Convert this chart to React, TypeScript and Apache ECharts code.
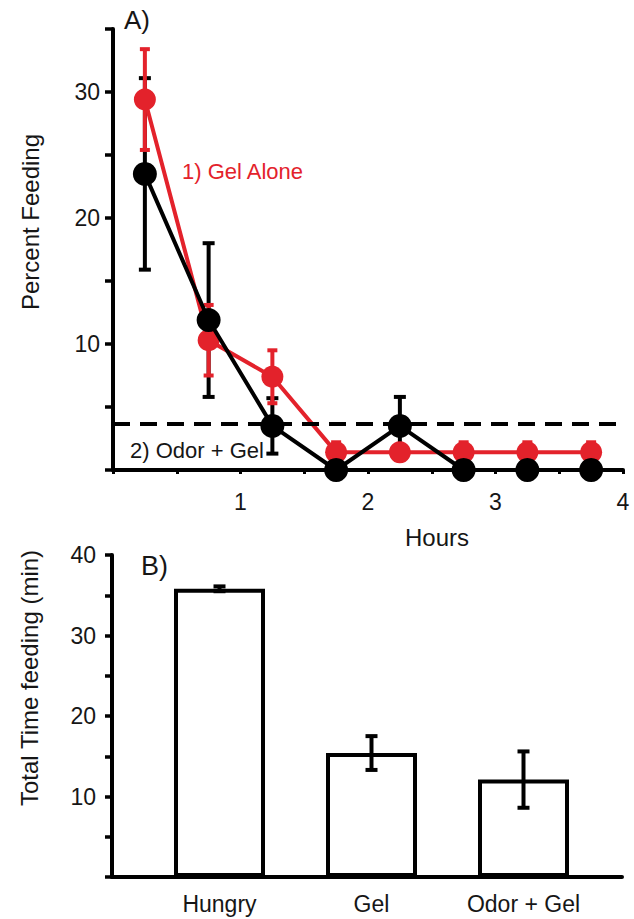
import React, { useEffect, useRef } from "react";
import * as echarts from "echarts";

const hours = [0.25, 0.75, 1.25, 1.75, 2.25, 2.75, 3.25, 3.75];
const gelAlone = [29.4, 10.3, 7.4, 1.4, 1.4, 1.4, 1.4, 1.4];
const gelAloneErr = [4.0, 2.8, 2.1, 0.8, 0, 0.8, 0.8, 0.8];
const odorGel = [23.5, 11.9, 3.5, 0, 3.5, 0, 0, 0];
const odorGelErr = [7.6, 6.1, 2.2, 0, 2.3, 0, 0, 0];
const threshold = 3.7;

const groups = ["Hungry", "Gel", "Odor + Gel"];
const totalTime = [35.8, 15.4, 12.1];
const totalTimeErr = [0.3, 2.1, 3.5];

const FONT = "'Liberation Sans', Arial, Helvetica, sans-serif";
const RED = "#e3222b";
const BLACK = "#000000";
const TEXT = "#161616";

function errorBars(rows: number[][], color: string, capW: number, xi: number, yi: number, z: number) {
  return {
    type: "custom",
    xAxisIndex: xi,
    yAxisIndex: yi,
    z,
    silent: true,
    clip: false,
    data: rows,
    encode: { x: 0, y: 1 },
    renderItem: (params: any, api: any) => {
      const x = api.value(0);
      const y = api.value(1);
      const e = api.value(2);
      if (!e) return { type: "group", children: [] };
      const t = api.coord([x, y + e]);
      const b = api.coord([x, y - e]);
      const hw = capW / 2;
      const st = { stroke: color, lineWidth: 4 };
      return {
        type: "group",
        children: [
          { type: "line", shape: { x1: t[0], y1: t[1], x2: b[0], y2: b[1] }, style: st },
          { type: "line", shape: { x1: t[0] - hw, y1: t[1], x2: t[0] + hw, y2: t[1] }, style: st },
          { type: "line", shape: { x1: b[0] - hw, y1: b[1], x2: b[0] + hw, y2: b[1] }, style: st },
        ],
      };
    },
  };
}

export default function App() {
  const ref = useRef<HTMLDivElement>(null);
  useEffect(() => {
    if (!ref.current) return;
    const chart = echarts.init(ref.current, undefined, { renderer: "svg" });
    const axisLine = { show: true, onZero: false, lineStyle: { color: BLACK, width: 4 } };
    const redRows = hours.map((h, i) => [h, gelAlone[i], gelAloneErr[i]]);
    const blackRows = hours.map((h, i) => [h, odorGel[i], odorGelErr[i]]);
    const barRows = groups.map((g, i) => [i, totalTime[i], totalTimeErr[i]]);
    const centered = (text: string, x: number, y: number, size: number, rot: number) => ({
      type: "text",
      x,
      y,
      rotation: rot,
      style: {
        text,
        fontSize: size,
        fill: TEXT,
        fontFamily: FONT,
        align: "center",
        textAlign: "center",
        verticalAlign: "middle",
        textVerticalAlign: "middle",
      },
    });
    chart.setOption({
      animation: false,
      textStyle: { fontFamily: FONT },
      grid: [
        { left: 113, top: 29, width: 510, height: 441 },
        { left: 112, top: 555, width: 510, height: 322 },
        { left: 143.5, top: 555, width: 456, height: 322 },
      ],
      xAxis: [
        {
          gridIndex: 0,
          type: "value",
          min: 0,
          max: 4,
          interval: 0.5,
          axisLine,
          axisTick: { show: true, length: 4, lineStyle: { color: BLACK, width: 3 } },
          axisLabel: {
            margin: 20,
            fontSize: 23,
            color: TEXT,
            fontFamily: FONT,
            formatter: (v: number) => (Number.isInteger(v) && v > 0 ? String(v) : ""),
          },
          splitLine: { show: false },
        },
        {
          gridIndex: 1,
          type: "value",
          min: 0,
          max: 1,
          axisLine,
          axisTick: { show: false },
          axisLabel: { show: false },
          splitLine: { show: false },
        },
        {
          gridIndex: 2,
          type: "category",
          data: groups,
          axisLine: { show: false },
          axisTick: { show: false },
          axisLabel: { margin: 15, fontSize: 23, color: TEXT, fontFamily: FONT },
          splitLine: { show: false },
        },
      ],
      yAxis: [
        {
          gridIndex: 0,
          type: "value",
          min: 0,
          max: 35,
          interval: 5,
          axisLine,
          axisTick: { show: true, length: 8, lineStyle: { color: BLACK, width: 3.5 } },
          axisLabel: {
            margin: 13,
            fontSize: 23,
            color: TEXT,
            fontFamily: FONT,
            formatter: (v: number) => (v > 0 && v % 10 === 0 ? String(v) : ""),
          },
          splitLine: { show: false },
        },
        {
          gridIndex: 1,
          type: "value",
          min: 0,
          max: 40,
          interval: 5,
          axisLine,
          axisTick: { show: true, length: 7, lineStyle: { color: BLACK, width: 3.5 } },
          axisLabel: {
            margin: 16,
            fontSize: 23,
            color: TEXT,
            fontFamily: FONT,
            formatter: (v: number) => (v > 0 && v % 10 === 0 ? String(v) : ""),
          },
          splitLine: { show: false },
        },
        { gridIndex: 2, type: "value", min: 0, max: 40, show: false },
      ],
      series: [
        errorBars(blackRows, BLACK, 12, 0, 0, 1),
        errorBars(redRows, RED, 10, 0, 0, 2),
        {
          type: "line",
          name: "1) Gel Alone",
          xAxisIndex: 0,
          yAxisIndex: 0,
          z: 3,
          clip: false,
          data: hours.map((h, i) => [h, gelAlone[i]]),
          symbol: "circle",
          symbolSize: 22,
          itemStyle: { color: RED },
          lineStyle: { color: RED, width: 4 },
          markLine: {
            silent: true,
            symbol: "none",
            label: { show: false },
            lineStyle: { color: BLACK, width: 4, type: [17, 10] },
            data: [{ yAxis: threshold }],
          },
        },
        {
          type: "line",
          name: "2) Odor + Gel",
          xAxisIndex: 0,
          yAxisIndex: 0,
          z: 4,
          clip: false,
          data: hours.map((h, i) => [h, odorGel[i]]),
          symbol: "circle",
          symbolSize: 24,
          itemStyle: { color: BLACK },
          lineStyle: { color: BLACK, width: 4 },
        },
        {
          type: "bar",
          xAxisIndex: 2,
          yAxisIndex: 2,
          z: 2,
          barWidth: 91,
          data: totalTime,
          itemStyle: { color: "#ffffff", borderColor: BLACK, borderWidth: 4 },
        },
        errorBars(barRows, BLACK, 12, 2, 2, 5),
      ],
      graphic: [
        { type: "text", left: 124, top: 7, style: { text: "A)", fontSize: 26, fill: TEXT, fontFamily: FONT } },
        { type: "text", left: 141, top: 552, style: { text: "B)", fontSize: 27, fill: TEXT, fontFamily: FONT } },
        {
          type: "text",
          x: 182,
          y: 171,
          style: { text: "1) Gel Alone", fontSize: 22, fill: RED, fontFamily: FONT, verticalAlign: "middle", textVerticalAlign: "middle" },
        },
        {
          type: "text",
          x: 130,
          y: 450,
          style: { text: "2) Odor + Gel", fontSize: 22, fill: TEXT, fontFamily: FONT, verticalAlign: "middle", textVerticalAlign: "middle" },
        },
        centered("Hours", 437, 537, 24, 0),
        centered("Percent Feeding", 30, 222, 24, Math.PI / 2),
        centered("Total Time feeding (min)", 29, 678, 24, Math.PI / 2),
      ],
    });
    return () => chart.dispose();
  }, []);
  return <div ref={ref} style={{ position: "absolute", left: 0, top: 0, width: 634, height: 919 }} />;
}
